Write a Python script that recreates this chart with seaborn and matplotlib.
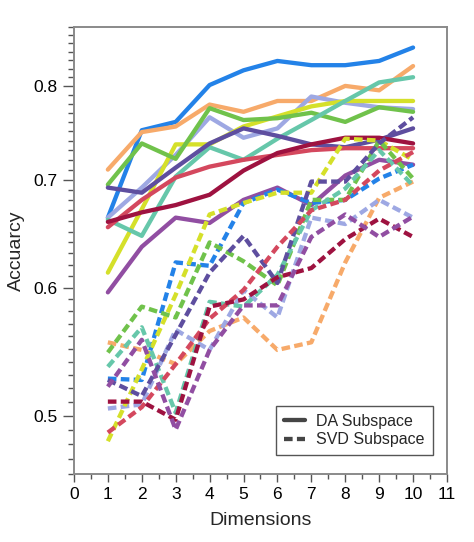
import numpy as np
import pandas as pd
import matplotlib
matplotlib.use("Agg")
import matplotlib.pyplot as plt
import seaborn as sns
from matplotlib.lines import Line2D
from matplotlib.ticker import FixedLocator, NullFormatter

# dimensions on x
dims = [1, 2, 3, 4, 5, 6, 7, 8, 9, 10]

# one colour per method, same colour used for both subspaces
methods = ["blue", "orange", "lavender", "yellow", "green",
           "teal", "darkpurple", "red", "crimson", "purple"]
colors = ["#2382e8", "#f7aa6a", "#9ea8e3", "#d5e02a", "#70c24b",
          "#66c7aa", "#5e4e9f", "#d4485e", "#9e1240", "#914ea2"]

# DA subspace (solid)
da_blue = [0.663, 0.751, 0.760, 0.801, 0.818, 0.829, 0.824, 0.824, 0.829, 0.845]
da_orange = [0.710, 0.749, 0.755, 0.779, 0.771, 0.783, 0.783, 0.800, 0.795, 0.823]
da_lavender = [0.663, 0.692, 0.725, 0.765, 0.743, 0.753, 0.788, 0.781, 0.776, 0.774]
da_yellow = [0.613, 0.671, 0.736, 0.736, 0.755, 0.766, 0.777, 0.783, 0.783, 0.783]
da_green = [0.695, 0.737, 0.721, 0.775, 0.762, 0.764, 0.770, 0.760, 0.776, 0.771]
da_teal = [0.661, 0.646, 0.703, 0.733, 0.720, 0.742, 0.762, 0.783, 0.804, 0.810]
da_darkpurple = [0.692, 0.687, 0.712, 0.737, 0.753, 0.745, 0.736, 0.733, 0.741, 0.753]
da_red = [0.654, 0.680, 0.702, 0.713, 0.720, 0.725, 0.730, 0.732, 0.732, 0.732]
da_crimson = [0.659, 0.668, 0.675, 0.685, 0.709, 0.727, 0.736, 0.743, 0.743, 0.737]
da_purple = [0.596, 0.636, 0.663, 0.658, 0.680, 0.692, 0.675, 0.704, 0.720, 0.715]

# SVD subspace (dashed)
svd_blue = [0.527, 0.526, 0.622, 0.619, 0.677, 0.690, 0.677, 0.680, 0.701, 0.715]
svd_orange = [0.555, 0.549, 0.538, 0.564, 0.575, 0.549, 0.555, 0.622, 0.682, 0.698]
svd_lavender = [0.505, 0.508, 0.565, 0.549, 0.598, 0.575, 0.663, 0.657, 0.680, 0.663]
svd_yellow = [0.482, 0.534, 0.594, 0.666, 0.677, 0.687, 0.687, 0.742, 0.740, 0.720]
svd_green = [0.547, 0.584, 0.575, 0.640, 0.623, 0.602, 0.680, 0.680, 0.740, 0.701]
svd_teal = [0.536, 0.567, 0.502, 0.588, 0.584, 0.611, 0.670, 0.691, 0.730, 0.694]
svd_darkpurple = [0.526, 0.514, 0.561, 0.613, 0.646, 0.604, 0.698, 0.698, 0.737, 0.765]
svd_red = [0.488, 0.506, 0.538, 0.574, 0.598, 0.636, 0.670, 0.680, 0.709, 0.728]
svd_crimson = [0.510, 0.510, 0.497, 0.584, 0.590, 0.609, 0.617, 0.643, 0.662, 0.645]
svd_purple = [0.521, 0.557, 0.490, 0.549, 0.585, 0.585, 0.645, 0.666, 0.645, 0.664]

da = [da_blue, da_orange, da_lavender, da_yellow, da_green,
      da_teal, da_darkpurple, da_red, da_crimson, da_purple]
svd = [svd_blue, svd_orange, svd_lavender, svd_yellow, svd_green,
       svd_teal, svd_darkpurple, svd_red, svd_crimson, svd_purple]

rows = []
for m, vals in zip(methods, da):
    for d, v in zip(dims, vals):
        rows.append({"dim": d, "acc": v, "method": m, "subspace": "DA"})
for m, vals in zip(methods, svd):
    for d, v in zip(dims, vals):
        rows.append({"dim": d, "acc": v, "method": m, "subspace": "SVD"})
df = pd.DataFrame(rows)

sns.set_style("ticks")
plt.rcParams["font.family"] = ["Liberation Sans", "DejaVu Sans"]

fig = plt.figure(figsize=(4.74, 5.42), dpi=100)
ax = fig.add_axes([0.156, 0.1255, 0.787, 0.8245])

LW = 3.1
DASH = (2.0, 1.0)

palette = dict(zip(methods, colors))
sns.lineplot(data=df[df["subspace"] == "DA"], x="dim", y="acc", hue="method",
             palette=palette, estimator=None, lw=LW, legend=False, ax=ax)
svd_df = df[df["subspace"] == "SVD"]
for m in methods:
    sub = svd_df[svd_df["method"] == m]
    sns.lineplot(data=sub, x="dim", y="acc", color=palette[m], estimator=None,
                 lw=LW, legend=False, ax=ax)
    ax.lines[-1].set_dashes(DASH)

ax.set_yscale("log")
ax.set_xlim(0, 11)
ax.set_ylim(0.46, 0.87)
ax.set_xticks(range(0, 12))
ax.set_xticks(np.arange(0.5, 11, 1.0), minor=True)
ax.yaxis.set_major_locator(FixedLocator([0.5, 0.6, 0.7, 0.8]))
ax.set_yticklabels(["0.5", "0.6", "0.7", "0.8"])
minor_y = [round(0.46 + 0.01 * i, 2) for i in range(42)]
minor_y = [v for v in minor_y if v not in (0.5, 0.6, 0.7, 0.8)]
ax.yaxis.set_minor_locator(FixedLocator(minor_y))
ax.yaxis.set_minor_formatter(NullFormatter())

ax.tick_params(axis="both", which="both", direction="out", width=1.0,
               color="#555555", labelsize=12.5, labelcolor="black")
ax.tick_params(axis="y", which="major", length=8)
ax.tick_params(axis="y", which="minor", length=4)
ax.tick_params(axis="x", which="major", length=6)
ax.tick_params(axis="x", which="minor", length=3.5)
ax.tick_params(top=False, right=False, which="both")
for s in ax.spines.values():
    s.set_color("#8a8a8a")
    s.set_linewidth(1.4)

ax.set_xlabel("Dimensions", fontsize=14, labelpad=7)
ax.set_ylabel("Accuarcy", fontsize=14, labelpad=6)

handles = [Line2D([0], [0], color="#454545", lw=LW, label="DA Subspace"),
           Line2D([0], [0], color="#454545", lw=LW, dashes=DASH,
                  label="SVD Subspace")]
leg = ax.legend(handles=handles, loc="lower right",
                bbox_to_anchor=(0.962, 0.042), borderaxespad=0,
                fontsize=11.5, fancybox=False, framealpha=1,
                handlelength=1.3, handletextpad=0.7, borderpad=0.5,
                labelspacing=0.2)
leg.get_frame().set_edgecolor("#555555")
leg.get_frame().set_linewidth(1.0)

fig.savefig("out.png", dpi=100)
